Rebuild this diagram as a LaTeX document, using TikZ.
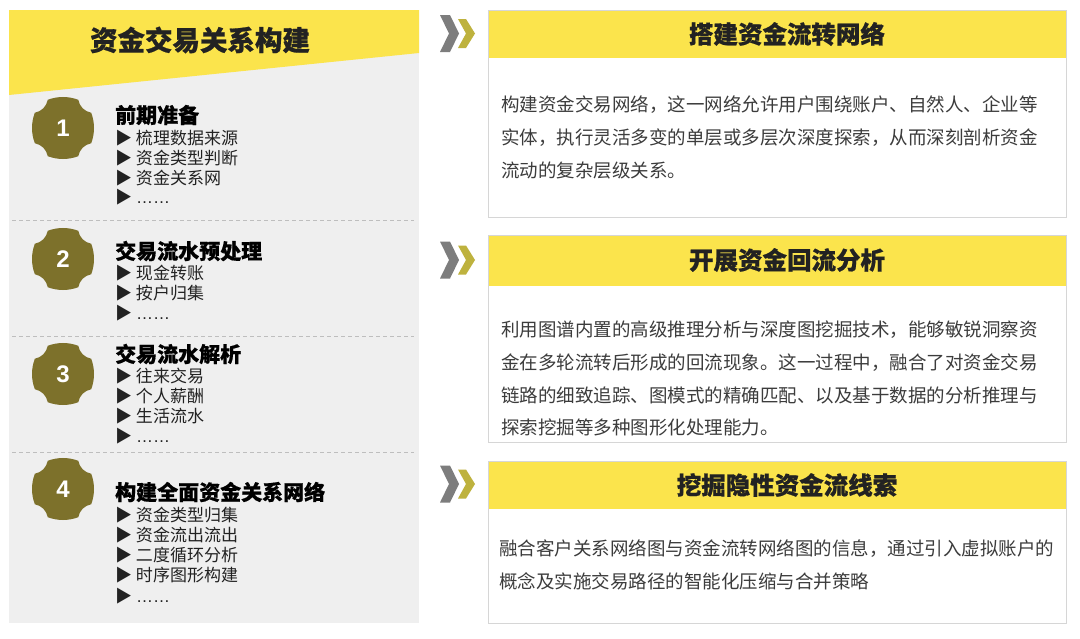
\documentclass[tikz,border=0pt]{standalone}
\usepackage{fontspec}
\setmainfont{Noto Sans CJK SC}
\newfontfamily\heavy{Noto Sans CJK SC}[BoldFeatures={FakeBold=0.7}]
\newfontfamily\lib{Liberation Sans}
\definecolor{lgray}{RGB}{239,239,239}
\definecolor{hyellow}{RGB}{251,228,76}
\definecolor{badgecol}{RGB}{125,113,43}
\definecolor{chevgray}{RGB}{125,125,125}
\definecolor{chevolive}{RGB}{190,178,62}
\definecolor{txt}{RGB}{34,34,34}
\definecolor{bodytxt}{RGB}{60,60,60}
\definecolor{pborder}{RGB}{214,214,214}
\definecolor{sepcol}{RGB}{190,190,190}
\tikzset{
  badgeshape/.pic={\fill[badgecol] (15.27,28.16)
      arc[start angle=68.95,end angle=111.05,radius=42.5]
      arc[start angle=-10.23,end angle=-79.77,radius=16]
      arc[start angle=158.95,end angle=201.05,radius=42.5]
      arc[start angle=79.77,end angle=10.23,radius=16]
      arc[start angle=248.95,end angle=291.05,radius=42.5]
      arc[start angle=169.77,end angle=100.23,radius=16]
      arc[start angle=-21.05,end angle=21.05,radius=42.5]
      arc[start angle=-100.23,end angle=-169.77,radius=16] -- cycle;},
  chevron/.pic={
    \fill[chevgray] (0,-18.5) -- (10,-18.5) -- (19,0) -- (10,18.5) -- (0,18.5) -- (9,0) -- cycle;
    \fill[chevolive] (18,-14.5) -- (26,-14.5) -- (35,0) -- (26,14.5) -- (18,14.5) -- (26,0) -- cycle;},
  num/.style={text=white, font=\lib\bfseries\fontsize{24}{24}\selectfont, inner sep=0},
  lhead/.style={anchor=west, inner sep=0, text=black, font=\heavy\bfseries\fontsize{21}{21}\selectfont},
  item/.style={anchor=west, inner sep=0, text=txt, font=\fontsize{17}{17}\selectfont},
  sep/.style={draw=sepcol, line width=0.9pt, dash pattern=on 4pt off 3pt},
  panel/.style={draw=pborder, line width=1pt, fill=white},
  phead/.style={fill=hyellow},
  ptitle/.style={inner sep=0, text=txt, font=\heavy\bfseries\fontsize{24.5}{24.5}\selectfont},
  body/.style={anchor=west, inner sep=0, text=bodytxt, font=\fontsize{18.5}{18.5}\selectfont},
}
\newcommand\myell{{\lib……}}
\begin{document}
\begin{tikzpicture}[x=1pt,y=-1pt]
\useasboundingbox (0,0) rectangle (1080,638);
\fill[white] (0,0) rectangle (1080,638);
% left panel
\fill[lgray] (9,10) rectangle (419,623);
\fill[hyellow] (9,10) -- (419,10) -- (419,53) -- (9,95) -- cycle;
\node[inner sep=0, text=txt, font=\heavy\bfseries\fontsize{27.5}{27.5}\selectfont] (ltitle) at (200,40) {资金交易关系构建};
% separators
\coordinate (s1a) at (12,220); \coordinate (s1b) at (414,220);
\coordinate (s2a) at (12,336); \coordinate (s2b) at (414,336);
\coordinate (s3a) at (12,452); \coordinate (s3b) at (414,452);
\draw[sep] (s1a) -- (s1b);
\draw[sep] (s2a) -- (s2b);
\draw[sep] (s3a) -- (s3b);
% badges
\pic at (63,128) {badgeshape}; \node[num] (b1) at (63,128) {1};
\pic at (63,259) {badgeshape}; \node[num] (b2) at (63,259) {2};
\pic at (63,374) {badgeshape}; \node[num] (b3) at (63,374) {3};
\pic at (63,489) {badgeshape}; \node[num] (b4) at (63,489) {4};
% section 1
\node[lhead] (h1) at (115,115) {前期准备};
\node[item] (i11) at (115,138) {▶ 梳理数据来源};
\node[item] (i12) at (115,158) {▶ 资金类型判断};
\node[item] (i13) at (115,178) {▶ 资金关系网};
\node[item] (i14) at (115,197) {▶ \myell};
% section 2
\node[lhead] (h2) at (115,251) {交易流水预处理};
\node[item] (i21) at (115,273) {▶ 现金转账};
\node[item] (i22) at (115,293) {▶ 按户归集};
\node[item] (i23) at (115,313) {▶ \myell};
% section 3
\node[lhead] (h3) at (115,354) {交易流水解析};
\node[item] (i31) at (115,376) {▶ 往来交易};
\node[item] (i32) at (115,396) {▶ 个人薪酬};
\node[item] (i33) at (115,416) {▶ 生活流水};
\node[item] (i34) at (115,436) {▶ \myell};
% section 4
\node[lhead] (h4) at (115,492) {构建全面资金关系网络};
\node[item] (i41) at (115,515) {▶ 资金类型归集};
\node[item] (i42) at (115,535) {▶ 资金流出流出};
\node[item] (i43) at (115,555) {▶ 二度循环分析};
\node[item] (i44) at (115,575) {▶ 时序图形构建};
\node[item] (i45) at (115,596) {▶ \myell};
% chevrons
\pic at (440,33.5) {chevron};
\pic at (440,260) {chevron};
\pic at (440,484) {chevron};
% panel 1
\draw[panel] (488,10) rectangle (1066,217);
\fill[phead] (488.5,10.5) rectangle (1065.5,58);
\node[ptitle] (t1) at (787,34) {搭建资金流转网络};
\node[body] (p11) at (501,105) {构建资金交易网络，这一网络允许用户围绕账户、自然人、企业等};
\node[body] (p12) at (501,138) {实体，执行灵活多变的单层或多层次深度探索，从而深刻剖析资金};
\node[body] (p13) at (501,171) {流动的复杂层级关系。};
% panel 2
\draw[panel] (488,235) rectangle (1066,442);
\fill[phead] (488.5,235.5) rectangle (1065.5,286);
\node[ptitle] (t2) at (787,260) {开展资金回流分析};
\node[body] (p21) at (501,330) {利用图谱内置的高级推理分析与深度图挖掘技术，能够敏锐洞察资};
\node[body] (p22) at (501,362.5) {金在多轮流转后形成的回流现象。这一过程中，融合了对资金交易};
\node[body] (p23) at (501,395) {链路的细致追踪、图模式的精确匹配、以及基于数据的分析推理与};
\node[body] (p24) at (501,427.5) {探索挖掘等多种图形化处理能力。};
% panel 3
\draw[panel] (488,461) rectangle (1066,623);
\fill[phead] (488.5,461.5) rectangle (1065.5,509);
\node[ptitle] (t3) at (787,485) {挖掘隐性资金流线索};
\node[body] (p31) at (499,549) {融合客户关系网络图与资金流转网络图的信息，通过引入虚拟账户的};
\node[body] (p32) at (499,581) {概念及实施交易路径的智能化压缩与合并策略};
\end{tikzpicture}
\end{document}
